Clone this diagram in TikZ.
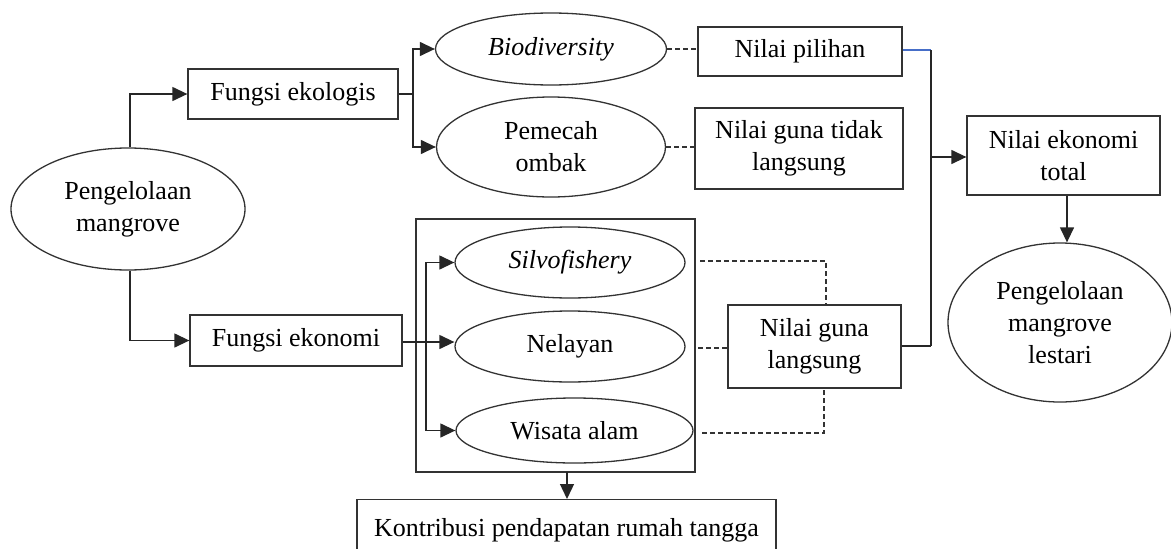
\documentclass[tikz,border=0pt]{standalone}
\usepackage{fontspec}
\setmainfont{Liberation Serif}
\usetikzlibrary{shapes.geometric,arrows.meta}
\begin{document}
\begin{tikzpicture}[x=1pt,y=-1pt,
  every node/.style={font=\fontsize{26}{32}\selectfont, align=center, inner sep=0pt},
  box/.style={draw=black!80, line width=1.3pt, rectangle},
  ell/.style={draw=black!80, line width=1.3pt, ellipse},
  conn/.style={draw=black!85, line width=1.3pt},
  arr/.style={conn, -{Triangle[length=15pt,width=14pt]}},
  dsh/.style={draw=black!80, line width=1.2pt, dash pattern=on 5pt off 3pt}]
\clip (0,0) rectangle (1171,549);
\useasboundingbox (0,0) rectangle (1171,549);
\fill[white] (0,0) rectangle (1171,549);
% nodes
\node[ell, minimum width=234pt, minimum height=122pt] (pm) at (128,209) {Pengelolaan\\mangrove};
\node[box, minimum width=210pt, minimum height=50pt] (fek) at (293,94) {Fungsi ekologis};
\node[box, minimum width=212pt, minimum height=51pt] (fec) at (296,340.5) {Fungsi ekonomi};
\node[ell, minimum width=231pt, minimum height=72pt] (bio) at (551,49) {\itshape Biodiversity};
\node[ell, minimum width=229pt, minimum height=100pt] (pom) at (551,147) {Pemecah\\ombak};
\node[box, minimum width=204pt, minimum height=49pt] (np) at (800,51.5) {Nilai pilihan};
\node[box, minimum width=208pt, minimum height=81pt] (ngtl) at (799,148.5) {Nilai guna tidak\\langsung};
\node[box, minimum width=193pt, minimum height=79pt] (net) at (1063.5,155.5) {Nilai ekonomi\\total};
\node[ell, minimum width=224pt, minimum height=159pt] (pml) at (1060,322.5) {Pengelolaan\\mangrove\\lestari};
\node[box, minimum width=279pt, minimum height=253pt] (cont) at (555.5,345.5) {};
\node[ell, minimum width=230pt, minimum height=71pt] (sil) at (570,262.5) {\itshape Silvofishery};
\node[ell, minimum width=230pt, minimum height=71pt] (nel) at (570,346.5) {Nelayan};
\node[ell, minimum width=237pt, minimum height=65pt] (wis) at (574.5,430.5) {Wisata alam};
\node[box, minimum width=173pt, minimum height=83pt] (ngl) at (814.5,346.5) {Nilai guna\\langsung};
\node[box, minimum width=419pt, minimum height=62pt, anchor=north] (kon) at (566.5,499) {\raisebox{-6pt}{Kontribusi pendapatan rumah tangga}};
% junction coordinates
\coordinate (j1) at (413,94);
\coordinate (j2) at (426,342);
\coordinate (jt) at (931,50);
\coordinate (jb) at (931,346);
\coordinate (jm) at (931,157);
\coordinate (s1) at (700,261);
\coordinate (s1c) at (826,261);
\coordinate (s2) at (698,348);
\coordinate (s3) at (702,433);
\coordinate (s3c) at (824,433);
\coordinate (cb) at (567,472);
% connectors
\draw[arr] (pm.north -| 130,0) |- (fek.west);
\draw[arr] (pm.south -| 130,0) |- (fec.west);
\draw[conn] (fek.east) -- (j1);
\draw[arr] (j1) |- (bio.west);
\draw[arr] (j1) |- (pom.west);
\draw[arr] (fec.east |- j2) -- (nel.west |- j2);
\draw[arr] (j2) |- (sil.west);
\draw[arr] (j2) |- (wis.west);
\draw[dsh] (bio.east) -- (np.west |- bio.east);
\draw[dsh] (pom.east) -- (ngtl.west |- pom.east);
\draw[draw={rgb,255:red,70;green,110;blue,200}, line width=1.2pt] (np.east |- jt) -- (jt);
\draw[conn] (jt) -- (jb);
\draw[conn] (ngl.east |- jb) -- (jb);
\draw[arr] (jm) -- (net.west |- jm);
\draw[arr] (net.south -| 1067,0) -- (pml.north -| 1067,0);
\draw[dsh] (s1) -- (s1c) -- (s1c |- ngl.north);
\draw[dsh] (s2) -- (ngl.west |- s2);
\draw[dsh] (s3) -- (s3c) -- (s3c |- ngl.south);
\draw[arr] (cb) -- (kon.north -| cb);
\end{tikzpicture}
\end{document}
